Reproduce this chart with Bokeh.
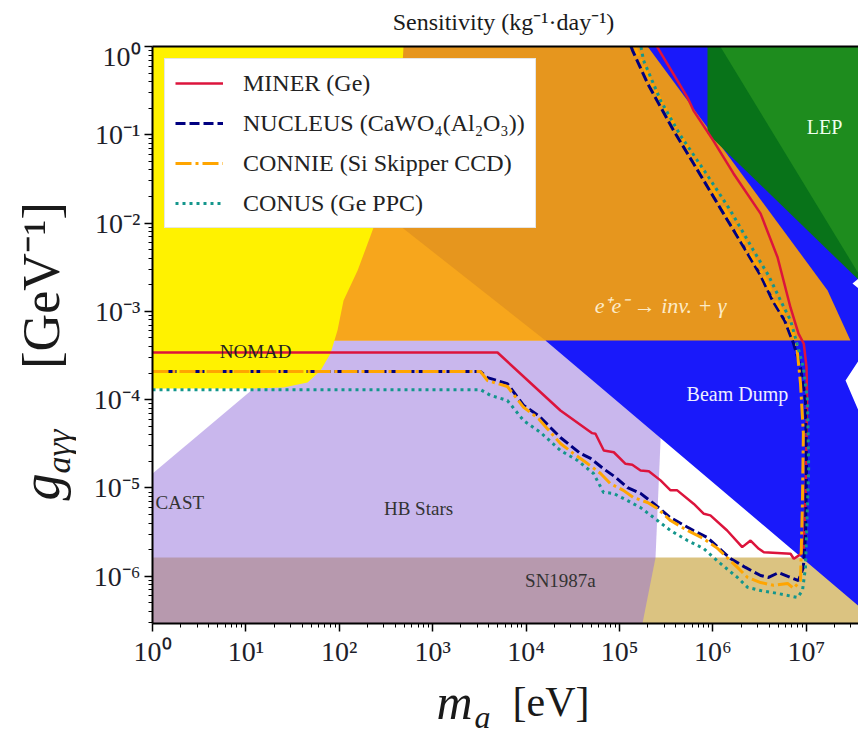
from bokeh.plotting import figure
from bokeh.layouts import column, row
from bokeh.models import Range1d, FixedTicker, LogAxis, Label, Legend, LegendItem
from bokeh.embed import file_html
from bokeh.resources import INLINE

FONT = "Liberation Serif"

# ---------------- data (m_a in eV, g in GeV^-1) ----------------
# Excluded regions
SN_M = [0.454, 1.02e8, 1.02e8, 0.454]
SN_G = [1.63e-6, 1.63e-6, 1.87e-7, 1.87e-7]

HB_M = [0.454, 49.2, 2.96e5, 2.75e5, 2.43e5, 1.62e5, 0.454]
HB_G = [7.2e-6, 4.68e-4, 4.68e-4, 3.45e-5, 1.63e-6, 1.87e-7, 1.87e-7]

BD_M = [1.61e4, 6.27e4, 4.87e7, 4.87e7, 3.12e7, 4.87e7, 4.87e7, 2.63e7, 4.87e7, 1.02e8]
BD_G = [4.68e-4, 1.0, 1.0, 3.06e-3, 2.07e-3, 1.4e-3, 4.45e-4, 1.65e-4, 3.64e-5, 1.83e-7]

EE_M = [38.4, 2.0e5, 1.69e7, 2.97e7, 38.4]
EE_G = [1.0, 1.0, 1.73e-3, 4.68e-4, 4.68e-4]

EE_LIGHT_M = [38.4, 276, 1.61e4, 38.4]
EE_LIGHT_G = [0.0139, 0.0139, 4.68e-4, 4.68e-4]

YEL_M = [0.5, 487, 452, 380, 297, 216, 157, 111, 95.7, 80.5, 63, 45.7, 25.3, 12, 0.5]
YEL_G = [1.0, 1.0, 0.245, 0.0664, 0.018, 7.2e-3, 2.9e-3, 1.33e-3, 6.1e-4, 3.33e-4,
         2.14e-4, 1.57e-4, 1.37e-4, 1.34e-4, 1.34e-4]

LEP_M = [8.75e5, 4.87e7, 4.87e7, 8.75e5]
LEP_G = [1.0, 1.0, 1.68e-3, 0.1035]
LEP2_M = [1.2e6, 4.87e7, 3.62e7]
LEP2_G = [1.0, 1.0, 2.69e-3]

# Sensitivity curves
MINER_M = [1, 4.94e3, 2.33e4, 5.1e4, 5.53e4, 6.79e4, 8.69e4, 1.16e5, 1.37e5, 1.68e5, 2.06e5,
           2.75e5, 3.52e5, 4.15e5, 6.25e5, 8.0e5, 9.4e5, 1.42e6, 2.06e6, 2.53e6, 3.1e6, 3.51e6,
           6.78e6, 7.35e6, 8.67e6, 9.4e6, 9.8e6, 1.02e7, 1.005e7, 9.4e6, 8.25e6, 6.78e6, 4.92e6,
           3.24e6, 1.66e6, 1.01e6, 6.2e5, 5.35e5, 2.55e5, 2.3e5]
MINER_G = [3.42e-4, 3.42e-4, 7.55e-5, 4.18e-5, 4.11e-5, 2.66e-5, 2.54e-5, 1.88e-5, 1.83e-5, 1.58e-5,
           1.55e-5, 1.22e-5, 9.4e-6, 9.4e-6, 6.6e-6, 5.1e-6, 4.9e-6, 3.3e-6, 2.14e-6, 2.54e-6,
           2.05e-6, 1.87e-6, 1.8e-6, 1.58e-6, 1.77e-6, 2.14e-6, 7.2e-6, 9.8e-5, 2.33e-4, 4.3e-4,
           5.6e-4, 1.1e-3, 4.1e-3, 1.28e-2, 3.65e-2, 8.6e-2, 0.188, 0.264, 0.975, 1.25]

NUCLEUS_M = [1, 3.25e3, 3.86e3, 6.3e3, 9.4e3, 1.36e4, 2.33e4, 3.82e4, 4.9e4, 6.7e4, 9.1e4, 1.22e5,
             1.68e5, 2.31e5, 3.52e5, 6.2e5, 8.7e5, 1.54e6, 2.23e6, 3.24e6, 3.94e6, 5.04e6, 6.78e6,
             8.25e6, 9.3e6, 9.8e6, 1.005e7, 9.8e6, 8.67e6, 7.3e6, 5.85e6, 4.35e6, 3.24e6, 2.35e6,
             1.3e6, 6.2e5, 3.79e5, 2.0e5, 1.38e5, 1.28e5]
NUCLEUS_G = [2.08e-4, 2.08e-4, 1.78e-4, 1.52e-4, 8.6e-5, 6.6e-5, 3.73e-5, 2.46e-5, 2.16e-5, 1.66e-5,
             1.32e-5, 1.01e-5, 8.7e-6, 6.7e-6, 4.6e-6, 3.3e-6, 2.75e-6, 1.59e-6, 1.26e-6, 1.02e-6,
             9.7e-7, 1.1e-6, 9.7e-7, 8.95e-7, 1.26e-6, 3.05e-6, 1.7e-5, 9.8e-5, 2.32e-4, 4.33e-4,
             7.9e-4, 1.33e-3, 2.55e-3, 4.53e-3, 1.28e-2, 4.73e-2, 0.112, 0.381, 0.9, 1.11]

CONNIE_M = [1, 3.25e3, 3.86e3, 6.3e3, 9.4e3, 1.36e4, 2.33e4, 3.21e4, 4.54e4, 6.27e4, 8.0e4, 1.1e5,
            1.41e5, 2.0e5, 2.55e5, 3.52e5, 5.35e5, 7.9e5, 1.12e6, 1.83e6, 2.35e6, 3.24e6, 4.46e6,
            6.3e6, 7.3e6, 8.67e6, 9.1e6, 9.3e6, 8.67e6, 7.85e6, 6.3e6, 4.68e6, 3.48e6, 2.53e6,
            1.43e6, 6.84e5, 4.18e5, 2.2e5, 1.52e5, 1.41e5]
CONNIE_G = [2.08e-4, 2.08e-4, 1.65e-4, 1.41e-4, 8.2e-5, 6.1e-5, 3.19e-5, 2.46e-5, 1.89e-5, 1.46e-5,
            1.12e-5, 9.4e-6, 7.8e-6, 6.85e-6, 5.86e-6, 4.28e-6, 3.3e-6, 2.68e-6, 2.07e-6, 1.26e-6,
            9.7e-7, 8.5e-7, 7.9e-7, 8.3e-7, 7.3e-7, 8.95e-7, 7.2e-6, 4.14e-5, 1.52e-4, 4.33e-4,
            7.9e-4, 1.33e-3, 2.55e-3, 4.53e-3, 1.28e-2, 4.73e-2, 0.112, 0.381, 0.9, 1.11]

CONUS_M = [1, 3.25e3, 4.16e3, 6.3e3, 9.4e3, 1.43e4, 2.33e4, 3.55e4, 5.27e4, 6.75e4, 8.6e4, 1.22e5,
           1.68e5, 2.31e5, 3.52e5, 5.35e5, 7.9e5, 1.2e6, 1.83e6, 2.35e6, 3.24e6, 4.92e6, 8.05e6,
           9.1e6, 9.8e6, 1.06e7, 1.03e7, 9.3e6, 8.05e6, 6.78e6, 5.3e6, 3.94e6, 2.72e6, 1.54e6,
           8.75e5, 4.5e5, 2.75e5, 1.81e5, 1.68e5]
CONUS_G = [1.30e-4, 1.30e-4, 1.12e-4, 9.8e-5, 5.8e-5, 4.25e-5, 2.66e-5, 2.05e-5, 1.46e-5, 8.9e-6,
           8.7e-6, 7.2e-6, 6.0e-6, 4.64e-6, 3.3e-6, 2.54e-6, 2.07e-6, 1.4e-6, 9.7e-7, 7.5e-7,
           6.9e-7, 6.4e-7, 5.75e-7, 6.9e-7, 1.26e-6, 1.7e-5, 9.8e-5, 2.32e-4, 4.11e-4, 7.9e-4,
           1.33e-3, 2.55e-3, 4.9e-3, 1.39e-2, 3.46e-2, 9.8e-2, 0.245, 0.694, 1.05]

SERIES_NAMES = ["MINER (Ge)", "NUCLEUS (CaWO\u2084(Al\u2082O\u2083))",
                "CONNIE (Si Skipper CCD)", "CONUS (Ge PPC)"]

X_TICKS = [1, 10, 100, 1000, 10000, 100000, 1000000, 10000000]
X_TICK_LABELS = ["10\u2070", "10\u00b9", "10\u00b2", "10\u00b3", "10\u2074", "10\u2075", "10\u2076", "10\u2077"]
Y_TICKS = [1e-6, 1e-5, 1e-4, 1e-3, 1e-2, 1e-1, 1.0]
Y_TICK_LABELS = ["10\u207b\u2076", "10\u207b\u2075", "10\u207b\u2074", "10\u207b\u00b3",
                 "10\u207b\u00b2", "10\u207b\u00b9", "10\u2070"]
X_MINOR = [k * 10 ** e for e in range(0, 8) for k in range(2, 10) if k * 10 ** e < 3.7e7]
Y_MINOR = [k * 10.0 ** e for e in range(-7, 0) for k in range(2, 10) if k * 10.0 ** e > 2.9e-7]

TITLE = "Sensitivity (kg\u207b\u00b9\u00b7day\u207b\u00b9)"

# ---------------- main figure ----------------
p = figure(width=782, height=630, x_axis_type="log", y_axis_type="log",
           x_range=Range1d(1, 3.62e7), y_range=Range1d(2.92e-7, 1.0),
           output_backend="svg", toolbar_location=None, title=None,
           min_border_left=76, min_border_right=0, min_border_top=6, min_border_bottom=47)
p.outline_line_color = None
p.grid.visible = False
p.background_fill_color = "white"
p.border_fill_color = "white"

p.patch(SN_M, SN_G, fill_color="#DBC381", line_color=None)
p.patch(HB_M, HB_G, fill_color="mediumpurple", fill_alpha=0.5, line_color=None)
p.patch(BD_M, BD_G, fill_color="#1919FA", line_color=None)
p.patch(EE_M, EE_G, fill_color="#E6961E", line_color=None)
p.patch(EE_LIGHT_M, EE_LIGHT_G, fill_color="#F7A61C", line_color=None)
p.patch(YEL_M, YEL_G, fill_color="#FFF200", line_color=None)
p.patch(LEP_M, LEP_G, fill_color="#087319", line_color=None)
p.patch(LEP2_M, LEP2_G, fill_color="#1E8C1E", line_color=None)

r_miner = p.line(MINER_M, MINER_G, line_color="#DC143C", line_width=2.5)
r_nucleus = p.line(NUCLEUS_M, NUCLEUS_G, line_color="#000080", line_width=3, line_dash="10 4")
r_connie = p.line(CONNIE_M, CONNIE_G, line_color="#FFA500", line_width=3, line_dash="16 4 3 4")
r_conus = p.line(CONUS_M, CONUS_G, line_color="#14968C", line_width=3, line_dash="3 4")

xa = p.xaxis[0]
ya = p.yaxis[0]
xa.ticker = FixedTicker(ticks=X_TICKS, minor_ticks=X_MINOR)
ya.ticker = FixedTicker(ticks=Y_TICKS, minor_ticks=Y_MINOR)
xa.major_label_overrides = {t: s for t, s in zip(X_TICKS, X_TICK_LABELS)}
ya.major_label_overrides = {t: s for t, s in zip(Y_TICKS, Y_TICK_LABELS)}
for ax in (xa, ya):
    ax.axis_line_width = 2
    ax.axis_line_color = "black"
    ax.major_tick_out = 8
    ax.major_tick_in = 0
    ax.minor_tick_out = 4
    ax.minor_tick_in = 0
    ax.major_tick_line_width = 1.5
    ax.minor_tick_line_width = 1
    ax.major_label_text_font = FONT
    ax.major_label_text_font_size = "28px"
    ax.major_label_text_color = "#1e1e2a"
    ax.major_label_standoff = 4

top = LogAxis(ticker=FixedTicker(ticks=[]), axis_line_width=2, axis_line_color="black",
              major_label_text_font_size="0px", major_tick_out=0, minor_tick_out=0,
              major_label_standoff=0)
p.add_layout(top, "above")


def inner(text, m, g, color, align="center", style="normal", size=19):
    return Label(x=m, y=g, text=text, text_font=FONT, text_font_size=f"{size}px",
                 text_font_style=style, text_color=color, text_align=align, text_baseline="middle")


p.add_layout(inner("NOMAD", 12.7, 3.52e-4, "#222222"))
p.add_layout(inner("CAST", 1.077, 6.85e-6, "#333333", align="left"))
p.add_layout(inner("HB Stars", 705, 5.86e-6, "#333333"))
p.add_layout(inner("SN1987a", 2.33e4, 8.96e-7, "#333333"))
p.add_layout(inner("Beam Dump", 1.83e6, 1.15e-4, "#EEEEFF", size=20))
p.add_layout(inner("LEP", 1.57e7, 0.121, "#EEFFEE", size=20))
p.add_layout(inner("e\u207ae\u207b \u2192 inv. + \u03b3", 2.75e5, 1.17e-3, "#FCEBC8",
                   style="italic", size=22))

legend = Legend(items=[LegendItem(label=SERIES_NAMES[0], renderers=[r_miner]),
                       LegendItem(label=SERIES_NAMES[1], renderers=[r_nucleus]),
                       LegendItem(label=SERIES_NAMES[2], renderers=[r_connie]),
                       LegendItem(label=SERIES_NAMES[3], renderers=[r_conus])],
                location="top_left")
legend.label_text_font = FONT
legend.label_text_font_size = "24px"
legend.label_text_color = "#222222"
legend.glyph_width = 48
legend.glyph_height = 28
legend.label_height = 28
legend.spacing = 12
legend.padding = 10
legend.margin = 12
legend.label_standoff = 20
legend.border_line_color = "#CCCCCC"
legend.border_line_width = 1
legend.background_fill_color = "white"
legend.background_fill_alpha = 1.0
p.add_layout(legend)


# ---------------- text panels (title and axis labels); data y == page pixel row ----------------
def text_panel(w, h, x0, x1, ytop, ybot, **borders):
    f = figure(width=w, height=h, x_range=Range1d(x0, x1), y_range=Range1d(ybot, ytop),
               output_backend="svg", toolbar_location=None, title=None,
               x_axis_location=None, y_axis_location=None, min_border=0, **borders)
    f.outline_line_color = None
    f.grid.visible = False
    f.background_fill_color = "white"
    f.border_fill_color = "white"
    return f


def txt(text, x, y, size, style="normal", angle=0.0, align="left"):
    return Label(x=x, y=y, text=text, text_font=FONT, text_font_size=f"{size}px",
                 text_font_style=style, text_align=align, text_baseline="middle",
                 angle=angle, text_color="#1a1a1a")


tfig = text_panel(858, 40, 0, 858, 0, 40)
tfig.add_layout(txt(TITLE, 503, 21, 24, align="center"))

yfig = text_panel(76, 630, 0, 76, 46, 623, min_border_top=6, min_border_bottom=47)
yfig.add_layout(txt("g", 40, 500, 54, "italic", angle=1.5708))
yfig.add_layout(txt("a\u03b3\u03b3", 58, 473, 34, "italic", angle=1.5708))
yfig.add_layout(txt("[GeV\u207b\u00b9]", 41, 285, 52, angle=1.5708, align="center"))

xfig = text_panel(858, 63, 0, 858, 670, 733)
xfig.add_layout(txt("m", 436, 701, 50, "italic"))
xfig.add_layout(txt("a", 474, 716, 32, "italic"))
xfig.add_layout(txt("[eV]", 512, 701, 42))

layout = column(tfig, row(yfig, p, spacing=0), xfig, spacing=0)
open("out.html", "w").write(file_html(layout, INLINE))
